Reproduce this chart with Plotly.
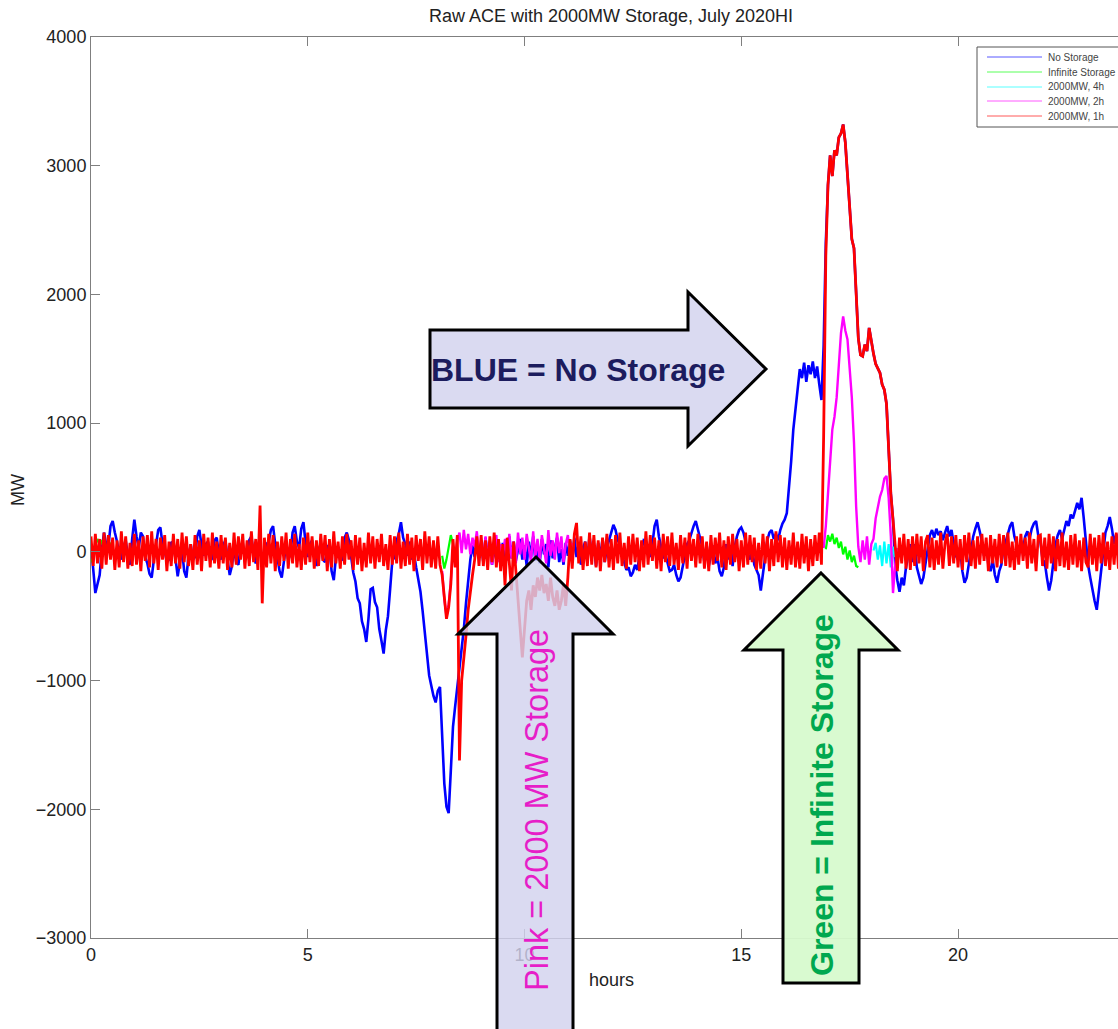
import plotly.graph_objects as go

# ---------------- data (MW), sampled every 0.05 h, one row per hour ----------------
STEP = 0.05

no_storage_rows = [
    [60, -120, -320, -250, -180, 20, 150, 60, 40, 200, 240, 150, 80, -20, -60, 40, 90, -30, -100, 100],
    [250, 120, 30, 150, 120, -40, -90, -170, -200, -60, 40, 170, 190, 60, 10, -80, -60, 70, 80, -40],
    [-190, -80, 20, -150, -200, -30, 60, -60, -40, 120, 170, 50, -30, 60, 80, -70, -50, 90, 110, -20],
    [-60, 50, 90, -60, -180, -110, 30, -80, -100, 40, 70, -50, -40, 90, 120, -20, -90, 20, 60, -70],
    [-30, 60, 80, 170, 200, 60, -40, -150, -200, -50, 50, -60, -20, 150, 200, 80, 30, 180, 230, 70],
    [-40, 60, 90, -50, -110, 20, 60, -60, -80, 50, 30, -150, -220, -40, 40, -70, -60, 110, 150, 90],
    [-60, -160, -230, -360, -400, -540, -600, -700, -520, -290, -280, -390, -430, -600, -690, -790, -610, -500, -290, -70],
    [-40, 90, 140, 230, 110, 60, -30, 80, -60, -10, -120, -230, -310, -460, -640, -830, -960, -1040, -1120, -1170],
    [-1080, -1050, -1450, -1800, -1980, -2030, -1700, -1360, -1200, -1050, -940, -750, -600, -400, -220, -60, 50, -40, 90, -20],
    [60, -80, 110, -40, 80, -100, 40, -60, 90, -30, 70, -90, 40, 120, -50, 80, -70, 30, 100, -60],
    [50, -110, 80, -40, 120, -70, 30, -90, 100, -20, 60, -120, 90, -50, 40, 110, -80, 20, -100, 70],
    [-30, 90, -70, 110, -40, 60, -100, 30, 80, -60, 120, -20, 50, -110, 70, -40, 100, -80, 30, 90],
    [150, 210, 170, 90, 60, -30, -80, -140, -120, -190, -160, -100, -140, -40, 20, 90, 80, 10, -40, 60],
    [200, 250, 120, 40, -50, -20, -90, -150, -140, -100, -180, -230, -200, -120, -20, 60, 90, 150, 200, 240],
    [180, 100, 40, -80, 60, -110, -40, 50, -90, -40, -150, -190, -120, 60, -60, 30, -110, 40, 120, 170],
    [190, 150, 80, -20, -60, 40, -100, -140, -180, -300, -170, -60, 90, 150, 170, 100, 140, 90, 170, 220],
    [250, 300, 480, 700, 950, 1100, 1250, 1420, 1350, 1470, 1320, 1450, 1380, 1480, 1350, 1440, 1300, 1180, 1600, 2400],
    [2850, 3080, 2920, 3120, 3080, 3220, 3250, 3320, 3180, 2920, 2680, 2430, 2360, 1980, 1660, 1530, 1520, 1610, 1560, 1740],
    [1620, 1540, 1460, 1430, 1390, 1300, 1260, 1150, 760, 450, 250, -100, -220, -310, -200, -260, -120, -40, 60, -80],
    [60, -120, -180, -250, -200, -90, 40, 130, 170, 110, 180, 130, 160, 90, 150, 200, 120, 170, 60, -30],
    [-60, 20, -150, -240, -200, -80, 40, 120, 180, 230, 160, 80, -30, 60, -100, -150, -60, -180, -240, -150],
    [-100, 40, 80, 150, 200, 230, 120, 60, -40, 90, 30, 120, 160, 100, 180, 220, 240, 130, 80, -60],
    [-80, -200, -300, -220, -80, 60, 130, 170, 100, 180, 240, 200, 290, 260, 330, 380, 330, 420, 260, 80],
    [-100, -200, -300, -380, -450, -300, -120, 40, 150, 200, 270, 180, 60, 140, -40, 80, 120, 20, 90, -30],
]

mw1h_rows = [
    [120, -110, 140, -90, 100, -130, 150, -100, 130, -60, 110, -140, 90, -120, 160, -80, 120, -130, 70, -110],
    [140, -100, 90, -150, 120, -70, 130, -120, 160, -90, 100, -140, 110, -60, 130, -150, 80, -110, 140, -90],
    [100, -130, 150, -80, 120, -110, 60, -140, 130, -100, 90, -150, 140, -70, 110, -120, 150, -90, 80, -130],
    [130, -90, 110, -140, 70, -120, 150, -100, 120, -60, 140, -130, 90, -110, 160, -80, 100, -140, 360, -400],
    [110, -120, 140, -90, 130, -150, 80, -110, 120, -70, 150, -130, 100, -90, 140, -120, 60, -140, 110, -100],
    [150, -80, 120, -130, 90, -110, 140, -70, 130, -150, 100, -120, 160, -90, 80, -130, 120, -100, 140, -60],
    [90, -140, 130, -100, 110, -150, 70, -120, 150, -90, 120, -130, 100, -80, 140, -110, 60, -140, 130, -100],
    [120, -90, 150, -130, 80, -110, 140, -100, 110, -150, 130, -70, 100, -140, 160, -90, 120, -120, 90, -130],
    [120, -100, -180, -380, -520, -430, -250, 100, -120, 130, -1620, -1000, -850, -650, -450, -300, -180, -60, 120, -110],
    [130, -110, 90, -140, 120, -80, 150, -120, 100, -150, 60, -260, 110, -90, -300, 80, -150, -300, -550, -820],
    [-600, -380, -300, -450, -260, -350, -200, -300, -180, -320, -250, -380, -200, -350, -420, -300, -450, -380, -250, -420],
    [-200, 100, -130, 140, 225, -90, 120, -140, 80, -110, 150, -100, 130, -120, 90, -150, 110, -80, 140, -120],
    [100, -140, 130, -90, 150, -110, 70, -130, 120, -100, 140, -80, 110, -150, 90, -120, 160, -100, 130, -70],
    [110, -130, 90, -150, 140, -80, 120, -110, 150, -100, 70, -140, 130, -90, 110, -130, 150, -70, 100, -120],
    [140, -90, 120, -130, 80, -150, 130, -100, 110, -70, 150, -120, 90, -140, 120, -100, 140, -80, 100, -150],
    [90, -120, 150, -100, 130, -80, 110, -140, 70, -130, 140, -90, 120, -150, 100, -110, 160, -80, 130, -120],
    [110, -140, 90, -100, 150, -120, 80, -130, 140, -90, 120, -150, 100, -110, 130, -70, 150, -100, 900, 2300],
    [2850, 3080, 2920, 3120, 3080, 3220, 3250, 3320, 3180, 2920, 2680, 2430, 2360, 1980, 1660, 1530, 1520, 1610, 1560, 1740],
    [1620, 1540, 1460, 1430, 1390, 1300, 1260, 1150, 760, 450, 250, 60, -150, 110, -90, 140, -130, 100, -140, 120],
    [-110, 140, -90, 120, -150, 80, 130, -120, 110, -140, 90, -100, 150, -130, 70, 140, -110, 120, -90, 130],
    [-120, 100, -140, 130, -80, 150, -110, 90, -130, 120, -100, 140, -70, 110, -150, 130, -90, 100, -120, 140],
    [-90, 130, -110, 150, -120, 80, -140, 120, -100, 140, -70, 110, -130, 150, -90, 100, -150, 120, 130, -110],
    [110, -130, 140, -90, 120, -150, 100, -110, 150, -120, 80, -140, 130, -100, 140, -120, 90, -150, 110, -80],
    [-120, 140, -100, 110, -150, 130, -90, 150, -110, 80, -140, 120, -100, 150, -130, 90, -80, 140, -110, 120],
]

# visible stretches of the other series (start hour, values every 0.05 h)
infinite_starts = [0.0, 8.1, 16.95]
infinite_segments = [
    [-80, -40, 60, 100, 50, 90, 20, -30, 40, 70, 10],
    [-30, -130, -60, 40, 130, 60],
    [20, 130, 80, 140, 60, 110, 30, 80, -20, 40, -60, 10, -80, -30, -110, -120],
]

mw4h_starts = [18.05]
mw4h_segments = [
    [10, 70, -60, 50, -110, 80, -90, 60, -120, 40, -40],
]

mw2h_starts = [8.1, 16.9]
mw2h_segments = [
    [-150, -370, -500, -410, -230, 20, -50, 90, 150, -10, 170, 20, 140, -20, 110, 40, 160, -30,
     90, -60, 120, -40, 70, -100, 50, 130, -80, 60, -30, 100, -70, 140, -50, 80, -90, 150, -20, 110,
     -60, 140, 30, -80, 160, -40, 100, -70, 130, 0, -90, 170, -30, 90, -60, 150, -10, 120, -80, 60,
     130, -40, 70],
    [30, 200, 450, 690, 950, 1050, 1200, 1450, 1700, 1830, 1720, 1650, 1400, 1200, 850, 350, 40, -80, 90, -60,
     120, -100, 60, 100, 260, 350, 430, 480, 570, 590, 420, 120, -320, -100, 30],
]

series_names = ["No Storage", "Infinite Storage", "2000MW, 4h", "2000MW, 2h", "2000MW, 1h"]
series_colors = ["#0000ff", "#00ff00", "#00ffff", "#ff00ff", "#ff0000"]

x_ticks = [0, 5, 10, 15, 20]
y_ticks = [-3000, -2000, -1000, 0, 1000, 2000, 3000, 4000]


def rows_to_xy(rows):
    xs, ys = [], []
    for h, row in enumerate(rows):
        for j, v in enumerate(row):
            xs.append(round(h + STEP * j, 3))
            ys.append(v)
    return xs, ys


def segs_to_xy(starts, segs):
    xs, ys = [], []
    for s, seg in zip(starts, segs):
        for j, v in enumerate(seg):
            xs.append(round(s + STEP * j, 3))
            ys.append(v)
        xs.append(None)
        ys.append(None)
    return xs, ys


# ---------------- figure ----------------
W, H = 1118, 1029
L, R, T, B = 91, 0, 37, 91
PW, PH = W - L - R, H - T - B


def px(xp):
    return (xp - L) / PW


def py(yp):
    return (H - B - yp) / PH


fig = go.Figure()

data_xy = [
    rows_to_xy(no_storage_rows),
    segs_to_xy(infinite_starts, infinite_segments),
    segs_to_xy(mw4h_starts, mw4h_segments),
    segs_to_xy(mw2h_starts, mw2h_segments),
    rows_to_xy(mw1h_rows),
]
widths = [2.6, 2.2, 2.2, 2.4, 2.8]
for (xs, ys), name, col, w in zip(data_xy, series_names, series_colors, widths):
    fig.add_trace(go.Scatter(x=xs, y=ys, mode="lines", name=name,
                             line=dict(color=col, width=w), connectgaps=False,
                             showlegend=False))

axis_col = "#7f7f7f"
font_main = "Liberation Sans, Arial, sans-serif"

fig.update_layout(
    width=W, height=H,
    margin=dict(l=L, r=R, t=T, b=B),
    paper_bgcolor="white", plot_bgcolor="white",
    font=dict(family=font_main, size=18, color="#222222"),
    title=dict(text="Raw ACE with 2000MW Storage, July 2020HI",
               x=px(611), xref="paper", xanchor="center",
               y=1 - 16 / H, yref="container", yanchor="middle",
               font=dict(size=18, color="#222222")),
    xaxis=dict(range=[0, 23.69], tickvals=x_ticks, ticks="inside", ticklen=9,
               tickcolor=axis_col, showline=True, linecolor=axis_col, linewidth=1,
               mirror="ticks", showgrid=False, zeroline=False,
               tickfont=dict(size=18, color="#222222")),
    yaxis=dict(range=[-3000, 4000], tickvals=y_ticks, ticks="inside", ticklen=9,
               tickcolor=axis_col, showline=True, linecolor=axis_col, linewidth=1,
               mirror=False, showgrid=False, zeroline=False,
               tickfont=dict(size=18, color="#222222")),
    showlegend=False,
)


def path(points):
    return "M " + " L ".join(f"{px(a):.5f},{py(b):.5f}" for a, b in points) + " Z"


arrow_line = dict(color="black", width=3)
shapes = [
    dict(type="path", xref="paper", yref="paper", layer="above",
         path=path([(430, 330), (688, 330), (688, 292), (766, 369), (688, 446), (688, 408), (430, 408)]),
         fillcolor="rgba(214,214,240,0.9)", line=arrow_line),
    dict(type="path", xref="paper", yref="paper", layer="above",
         path=path([(536, 557), (613, 634), (573, 634), (573, 1045), (497, 1045), (497, 634), (458, 634)]),
         fillcolor="rgba(210,210,238,0.82)", line=arrow_line),
    dict(type="path", xref="paper", yref="paper", layer="above",
         path=path([(821, 573), (898, 650), (859, 650), (859, 983), (783, 983), (783, 650), (744, 650)]),
         fillcolor="rgba(215,250,205,0.95)", line=arrow_line),
]

# legend box (MATLAB style, running into the right edge)
leg_rows_y = [57, 72, 87, 101, 116]
shapes.append(dict(type="rect", xref="paper", yref="paper", layer="above",
                   x0=px(977), x1=px(1135), y0=py(127), y1=py(47),
                   fillcolor="white", line=dict(color="#555555", width=1)))
for yy, col in zip(leg_rows_y, series_colors):
    shapes.append(dict(type="line", xref="paper", yref="paper", layer="above",
                       x0=px(987), x1=px(1042), y0=py(yy), y1=py(yy),
                       line=dict(color=col, width=1), opacity=0.65))
fig.update_layout(shapes=shapes)

annotations = [
    dict(text="<b>BLUE = No Storage</b>", x=px(578), y=py(370),
         font=dict(size=32, color="#1c1c5e", family=font_main)),
    dict(text="Pink = 2000 MW Storage", x=px(537), y=py(810), textangle=-90,
         font=dict(size=32.5, color="#e61ec8", family=font_main)),
    dict(text="<b>Green = Infinite Storage</b>", x=px(822), y=py(795), textangle=-90,
         font=dict(size=32, color="#00a84f", family=font_main)),
    dict(text="hours", x=px(611), y=py(980), font=dict(size=18, color="#222222")),
    dict(text="MW", x=px(18), y=py(490), textangle=-90,
         font=dict(size=18, color="#222222")),
]
for a in annotations:
    a.update(xanchor="center")
for yy, name in zip(leg_rows_y, series_names):
    annotations.append(dict(text=name, x=px(1046), y=py(yy), xanchor="left",
                            font=dict(size=10, color="#444444")))
for a in annotations:
    a.update(xref="paper", yref="paper", showarrow=False, yanchor="middle")
fig.update_layout(annotations=annotations)

fig.write_html("out.html", config={"displayModeBar": False},
               post_script="document.body.style.margin='0';document.body.style.overflow='hidden';")
